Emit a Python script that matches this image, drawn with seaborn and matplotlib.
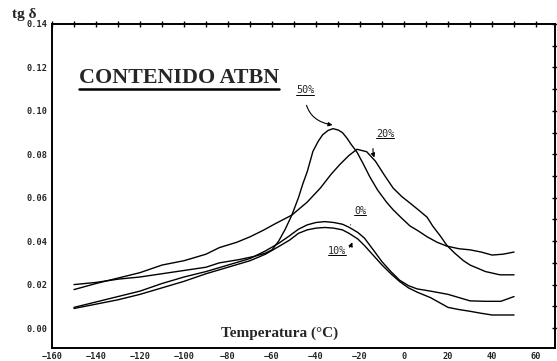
import numpy as np
import pandas as pd
import matplotlib
matplotlib.use("Agg")
import matplotlib.pyplot as plt
import matplotlib.text as mtext
import seaborn as sns
from matplotlib.lines import Line2D
from matplotlib.ticker import MultipleLocator, FormatStrFormatter

# ---- data ----
temp_0 = [-150, -140, -130, -120, -110, -100, -90, -80, -70, -63, -57, -52, -48, -44, -40, -36,
          -32, -28, -25, -21, -18, -14, -10, -6, -2, 2, 6, 12, 20, 25, 30, 37, 44, 50]
tan_0 = [0.0095, 0.012, 0.0145, 0.017, 0.0205, 0.0235, 0.026, 0.029, 0.032, 0.0355, 0.039, 0.0425,
         0.0455, 0.0475, 0.0486, 0.049, 0.0486, 0.0478, 0.0464, 0.044, 0.0414, 0.036, 0.0305, 0.026,
         0.022, 0.0195, 0.018, 0.017, 0.0155, 0.014, 0.0125, 0.0123, 0.0123, 0.0145]

temp_10 = [-150, -140, -130, -120, -110, -100, -90, -80, -70, -63, -57, -52, -48, -44, -40, -36,
           -32, -28, -25, -21, -18, -14, -10, -6, -2, 2, 6, 12, 20, 25, 30, 35, 40, 50]
tan_10 = [0.009, 0.011, 0.013, 0.0155, 0.0185, 0.0215, 0.025, 0.028, 0.031, 0.034, 0.0375, 0.0405,
          0.0436, 0.0452, 0.046, 0.0463, 0.046, 0.0452, 0.0436, 0.041, 0.038, 0.0335, 0.029, 0.025,
          0.0214, 0.0185, 0.0165, 0.014, 0.0095, 0.0085, 0.0077, 0.0068, 0.006, 0.006]

temp_20 = [-150, -140, -130, -120, -110, -100, -90, -84, -76, -70, -64, -58.6, -51, -44, -38, -33,
           -29, -25, -21.4, -17, -13, -9, -5, -1, 3, 7, 10.5, 13, 16.4, 19.5, 23, 27, 30, 37, 43.6, 50]
tan_20 = [0.0177, 0.0205, 0.023, 0.0255, 0.029, 0.031, 0.034, 0.037, 0.0395, 0.042, 0.045, 0.048,
          0.052, 0.058, 0.0645, 0.071, 0.0755, 0.0795, 0.0823, 0.0812, 0.0768, 0.0705, 0.0645,
          0.0605, 0.0573, 0.054, 0.051, 0.047, 0.0425, 0.038, 0.0345, 0.031, 0.029, 0.026, 0.0245,
          0.0245]

temp_50 = [-150, -140, -130, -120, -110, -100, -90, -84, -75, -68, -63, -60, -57, -54, -51, -48,
           -46, -44, -41.4, -39, -37, -34.5, -32.3, -30, -28, -26, -24, -21.4, -18.5, -15.5, -12,
           -8, -5, -1, 2.7, 6, 10.5, 15, 19.5, 25, 30, 35, 40, 45, 50]
tan_50 = [0.020, 0.021, 0.0225, 0.0235, 0.025, 0.0265, 0.028, 0.030, 0.0315, 0.033, 0.0345, 0.036,
          0.040, 0.0455, 0.052, 0.060, 0.0664, 0.072, 0.0814, 0.086, 0.089, 0.091, 0.0918, 0.0912,
          0.090, 0.0875, 0.0845, 0.081, 0.0755, 0.0695, 0.0635, 0.058, 0.0545, 0.0505, 0.047,
          0.045, 0.042, 0.0395, 0.0377, 0.0365, 0.036, 0.035, 0.0336, 0.034, 0.035]

series_names = ["0%", "10%", "20%", "50%"]
x_ticks = [-160, -140, -120, -100, -80, -60, -40, -20, 0, 20, 40, 60]
y_ticks = [0.00, 0.02, 0.04, 0.06, 0.08, 0.10, 0.12, 0.14]

frames = []
for name, t, v in zip(series_names, [temp_0, temp_10, temp_20, temp_50],
                      [tan_0, tan_10, tan_20, tan_50]):
    frames.append(pd.DataFrame({"T": t, "tan": v, "serie": name}))
df = pd.concat(frames, ignore_index=True)

sns.set_style("white")
plt.rcParams["font.family"] = ["DejaVu Sans"]

fig = plt.figure(figsize=(5.57, 3.61), dpi=100)
ax = fig.add_axes([52 / 557, 13 / 361, 503 / 557, 324 / 361])

sns.lineplot(data=df, x="T", y="tan", hue="serie", units="serie", estimator=None, sort=False,
             palette={n: "black" for n in series_names}, linewidth=1.0, legend=False, ax=ax)

ax.set_xlim(-160, 68.6)
ax.set_ylim(-0.0092, 0.14)
ax.set_xticks(x_ticks)
ax.set_yticks(y_ticks)
ax.xaxis.set_minor_locator(MultipleLocator(10))
ax.yaxis.set_minor_locator(MultipleLocator(0.01))
ax.yaxis.set_major_formatter(FormatStrFormatter("%.2f"))
ax.set_xlabel("")
ax.set_ylabel("")
for sp in ax.spines.values():
    sp.set_visible(True)
    sp.set_color("black")
    sp.set_linewidth(1.4)
ax.tick_params(which="both", direction="inout", top=True, right=True, color="black",
               width=1.0, labelsize=6.2, pad=1)
ax.tick_params(which="major", length=5)
ax.tick_params(which="minor", length=4)
ax.tick_params(axis="x", labeltop=False, pad=0.5)
ax.tick_params(axis="y", labelright=False)
for lab in ax.get_xticklabels() + ax.get_yticklabels():
    lab.set_fontfamily("DejaVu Sans Mono")
    lab.set_fontweight("bold")

serif = ["Liberation Serif", "DejaVu Serif"]
title = ax.text(0.054, 0.818, "CONTENIDO ATBN", transform=ax.transAxes, fontsize=15.8,
                fontweight="bold", family=serif, ha="left", va="baseline")
fig.text(0.022, 1 - 18 / 361, "tg δ", fontsize=11, fontweight="bold", family=serif,
         ha="left", va="baseline")
ax.text(0.453, 0.034, "Temperatura (°C)", transform=ax.transAxes, fontsize=11,
        fontweight="bold", family=serif, ha="center", va="baseline")

mono = ["DejaVu Sans Mono"]
lab_kw = dict(fontsize=7.3, family=mono, ha="center", va="center")
arrow_kw = dict(arrowstyle="-|>", color="black", lw=0.8, mutation_scale=6)

t50 = ax.annotate("50%", xy=(-32.5, 0.0935), xytext=(-45, 0.1095),
                  arrowprops=dict(connectionstyle="arc3,rad=0.45", shrinkA=5, shrinkB=0, **arrow_kw),
                  **lab_kw)
t20 = ax.annotate("20%", xy=(-13.5, 0.0785), xytext=(-8.7, 0.0895),
                  arrowprops=dict(connectionstyle="arc3,rad=0.45", shrinkA=5, shrinkB=0, **arrow_kw),
                  **lab_kw)
t0 = ax.annotate("0%", xy=(-24.3, 0.0475), xytext=(-20, 0.054),
                 arrowprops=dict(arrowstyle="-", color="black", lw=0.8,
                                 connectionstyle="arc3,rad=0", shrinkA=5, shrinkB=0),
                 **lab_kw)
t10 = ax.annotate("10%", xy=(-23.5, 0.0395), xytext=(-30.5, 0.0355),
                  arrowprops=dict(connectionstyle="arc3,rad=0.4", shrinkA=8, shrinkB=0, **arrow_kw),
                  **lab_kw)

fig.canvas.draw()
renderer = fig.canvas.get_renderer()


def underline(txt, gap, lw):
    bb = mtext.Text.get_window_extent(txt, renderer)
    y = bb.y0 - gap
    fig.add_artist(Line2D([bb.x0, bb.x1], [y, y], transform=None, color="black", lw=lw))


underline(title, 1.5, 1.8)
for t in (t50, t20, t0, t10):
    underline(t, -0.5, 0.7)

fig.savefig("out.png", dpi=100, facecolor="white")
